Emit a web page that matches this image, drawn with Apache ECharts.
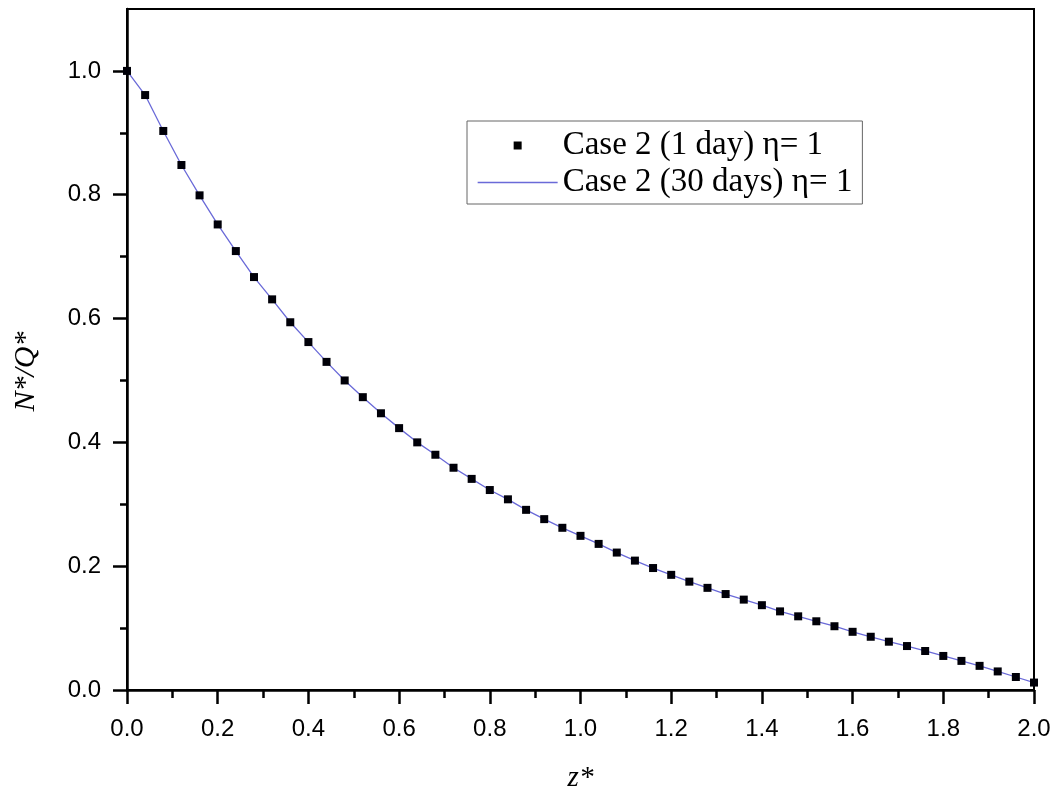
<!DOCTYPE html>
<html>
<head>
<meta charset="utf-8">
<script src="https://cdn.jsdelivr.net/npm/echarts@6/dist/echarts.min.js"></script>
<style>
html,body{margin:0;padding:0;background:#fff;}
#chart{width:1060px;height:798px;}
</style>
</head>
<body>
<div id="chart"></div>
<script>
// z* positions of the sampled points
const zValues = [0.00,0.04,0.08,0.12,0.16,0.20,0.24,0.28,0.32,0.36,0.40,0.44,0.48,0.52,0.56,0.60,0.64,0.68,0.72,0.76,0.80,0.84,0.88,0.92,0.96,1.00,1.04,1.08,1.12,1.16,1.20,1.24,1.28,1.32,1.36,1.40,1.44,1.48,1.52,1.56,1.60,1.64,1.68,1.72,1.76,1.80,1.84,1.88,1.92,1.96,2.00];
// Case 2 (1 day) eta=1 : square markers
const day1 = [1.000,0.961,0.903,0.848,0.799,0.752,0.709,0.667,0.631,0.594,0.562,0.530,0.500,0.473,0.447,0.423,0.400,0.380,0.359,0.341,0.323,0.308,0.291,0.276,0.262,0.249,0.236,0.222,0.209,0.197,0.186,0.175,0.165,0.155,0.146,0.137,0.127,0.119,0.111,0.103,0.094,0.086,0.078,0.071,0.063,0.055,0.047,0.039,0.030,0.021,0.012];
// Case 2 (30 days) eta=1 : line
const day30 = [1.000,0.961,0.903,0.848,0.799,0.752,0.709,0.667,0.631,0.594,0.562,0.530,0.500,0.473,0.447,0.423,0.400,0.380,0.359,0.341,0.323,0.308,0.291,0.276,0.262,0.249,0.236,0.222,0.209,0.197,0.186,0.175,0.165,0.155,0.146,0.137,0.127,0.119,0.111,0.103,0.094,0.086,0.078,0.071,0.063,0.055,0.047,0.039,0.030,0.021,0.012];
// tick values
const yMajorTicks = [0.0,0.2,0.4,0.6,0.8,1.0];
const yMinorTicks = [0.1,0.3,0.5,0.7,0.9];
const seriesNames = ['Case 2 (1 day) η= 1','Case 2 (30 days) η= 1'];

const pairs = (xs, ys) => xs.map((x, i) => [x, ys[i]]);
const labelFont = { color:'#000', fontFamily:'"Liberation Sans", Arial, sans-serif', fontSize:24 };
const lineColor = '#6a6ad8';

const chart = echarts.init(document.getElementById('chart'), null, {renderer:'canvas'});
chart.setOption({
  animation:false,
  backgroundColor:'#fff',
  grid:{ left:127, right:26, top:9, bottom:106, show:true, borderColor:'#000', borderWidth:2, backgroundColor:'transparent' },
  legend:{
    orient:'vertical', left:467, top:121,
    padding:[7,10,4,10], itemGap:2,
    itemWidth:80, itemHeight:8,
    borderColor:'#666', borderWidth:1, borderRadius:0,
    textStyle:{ color:'#000', fontFamily:'"Liberation Serif","Times New Roman",serif', fontSize:33, lineHeight:35 },
    data:[
      { name:seriesNames[0], icon:'path://M0,0L10,0L10,10L0,10Z', itemStyle:{color:'#000', opacity:1} },
      { name:seriesNames[1], itemStyle:{ color:'transparent', borderWidth:0 }, lineStyle:{ color:lineColor, width:1.3 } }
    ]
  },
  xAxis:{
    type:'value', min:0, max:2, interval:0.2,
    name:'z*', nameLocation:'middle', nameGap:74,
    nameTextStyle:{ color:'#000', fontFamily:'"Liberation Serif","Times New Roman",serif', fontStyle:'italic', fontSize:29 },
    axisLine:{ show:true, onZero:false, lineStyle:{ color:'#000', width:2.5 } },
    axisTick:{ show:true, inside:false, length:14, lineStyle:{ color:'#000', width:2.5 } },
    minorTick:{ show:true, splitNumber:2, length:8, lineStyle:{ color:'#000', width:2.5 } },
    axisLabel:{ ...labelFont, margin:27, formatter:v => v.toFixed(1) },
    splitLine:{ show:false }, minorSplitLine:{ show:false }
  },
  yAxis:[
    {
      type:'value', min:0, max:1.1, position:'left',
      name:'N*/Q*', nameLocation:'middle', nameGap:86, nameRotate:90,
      nameTextStyle:{ color:'#000', fontFamily:'"Liberation Serif","Times New Roman",serif', fontStyle:'italic', fontSize:30, padding:[0,44,0,0] },
      axisLine:{ show:true, onZero:false, lineStyle:{ color:'#000', width:2.5 } },
      axisTick:{ show:true, inside:false, length:14, customValues:yMajorTicks, lineStyle:{ color:'#000', width:2.5 } },
      axisLabel:{ ...labelFont, margin:26, customValues:yMajorTicks, formatter:v => v.toFixed(1) },
      splitLine:{ show:false }
    },
    {
      type:'value', min:0, max:1.1, position:'left',
      axisLine:{ show:false },
      axisTick:{ show:true, inside:false, length:7, customValues:yMinorTicks, lineStyle:{ color:'#000', width:2.5 } },
      axisLabel:{ show:false },
      splitLine:{ show:false }
    }
  ],
  series:[
    {
      name:seriesNames[1], type:'line', yAxisIndex:0,
      data:pairs(zValues, day30),
      showSymbol:false, symbol:'none', smooth:false,
      lineStyle:{ color:lineColor, width:1.3 },
      itemStyle:{ color:lineColor },
      z:2
    },
    {
      name:seriesNames[0], type:'scatter', yAxisIndex:0,
      data:pairs(zValues, day1),
      symbol:'rect', symbolSize:8,
      itemStyle:{ color:'#000008', opacity:1 },
      z:3
    }
  ]
});
</script>
</body>
</html>
